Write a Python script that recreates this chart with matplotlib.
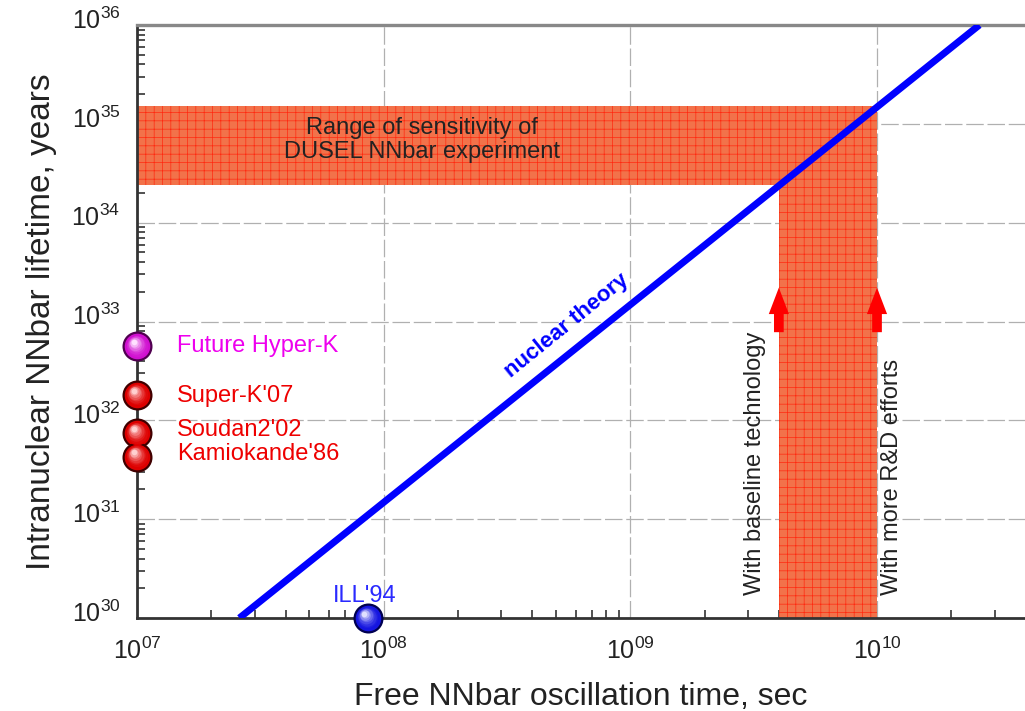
import matplotlib
matplotlib.use("Agg")
import matplotlib.pyplot as plt
import matplotlib.transforms as mtransforms
from matplotlib.colors import to_rgb
from matplotlib.ticker import LogLocator, FixedLocator, NullFormatter
import numpy as np

plt.rcParams['font.family'] = ['Liberation Sans', 'DejaVu Sans']
plt.rcParams['mathtext.fontset'] = 'custom'
plt.rcParams['mathtext.rm'] = 'Liberation Sans'
plt.rcParams['hatch.linewidth'] = 0.5

# nuclear theory line T = R * tau^2 (endpoints)
theory_tau = [2.6e7, 2.6e10]
theory_T = [1e30, 1e36]

# experimental limits
exp_names = ["Future Hyper-K", "Super-K'07", "Soudan2'02", "Kamiokande'86"]
exp_tau = [1e7, 1e7, 1e7, 1e7]
exp_T = [5.6e32, 1.8e32, 7.4e31, 4.3e31]
exp_colors = ['#ee00ee', '#ee0000', '#ee0000', '#ee0000']
exp_label_T = [5.6e32, 1.75e32, 8.0e31, 4.6e31]

ill_tau = 8.6e7
ill_T = 1e30

# DUSEL sensitivity band
dusel_tau = [4e9, 1e10]
dusel_T = [2.4e34, 1.5e35]

xmin, xmax = 1e7, 10 ** 10.6
ymin, ymax = 1e30, 1e36

fig = plt.figure(figsize=(10.25, 7.11), dpi=100)
ax = fig.add_axes([0.1337, 0.1308, 0.8663, 0.834])
ax.set_xscale('log')
ax.set_yscale('log')
ax.set_xlim(xmin, xmax)
ax.set_ylim(ymin, ymax)

band_kw = dict(facecolor='#f2724a', edgecolor='#ff2a10', hatch='++', linewidth=0, zorder=1)
ax.fill_between([xmin, dusel_tau[1]], dusel_T[0], dusel_T[1], **band_kw)
ax.fill_between(dusel_tau, ymin, dusel_T[0], **band_kw)

ax.plot(theory_tau, theory_T, color='#0000ff', lw=5, solid_capstyle='butt', zorder=3)
ax.text(5.5e8, 9.1e32, 'nuclear theory', color='#0000ff', fontsize=16,
        fontweight='bold', rotation=39, ha='center', va='center', zorder=4)

ax.text(1.43e8, 6.9e34, 'Range of sensitivity of\nDUSEL NNbar experiment',
        ha='center', va='center', fontsize=17, color='#222222', linespacing=1.1, zorder=4)

# red arrows
for xa in dusel_tau:
    ax.annotate('', xy=(xa, 2.2e33), xytext=(xa, 7.8e32),
                arrowprops=dict(arrowstyle='simple,head_width=1.45,head_length=1.9,tail_width=0.7',
                                color='#ff0000', lw=0, shrinkA=0, shrinkB=0), zorder=5)

ax.text(3.2e9, 1.7e30, 'With baseline technology', rotation=90, ha='center', va='bottom',
        fontsize=17, color='#222222', zorder=4)
ax.text(1.15e10, 1.7e30, 'With more R&D efforts', rotation=90, ha='center', va='bottom',
        fontsize=17, color='#222222', zorder=4)


def sphere(x, y, color, dark, light):
    # shaded ball: stacked discs getting lighter towards the upper-left
    c1, c2 = np.array(to_rgb(color)), np.array(to_rgb(light))
    ax.plot(x, y, 'o', ms=20, mfc=color, mec=dark, mew=1.6, clip_on=False, zorder=10)
    n = 8
    for i in range(n):
        f = i / (n - 1)
        col = c1 + (c2 - c1) * f ** 1.6
        ms = 17 - 13 * f
        off = mtransforms.offset_copy(ax.transData, fig=fig, x=-3.5 * f, y=4.5 * f, units='dots')
        ax.plot(x, y, 'o', ms=ms, mfc=col, mec='none', transform=off,
                clip_on=False, zorder=11 + i)


for tau, T, c in zip(exp_tau, exp_T, exp_colors):
    if c == '#ee00ee':
        sphere(tau, T, '#d010d0', '#500050', '#ffe0ff')
    else:
        sphere(tau, T, '#dd0000', '#400000', '#ffd0d0')
for name, T, c in zip(exp_names, exp_label_T, exp_colors):
    ax.text(1.45e7, T, name, color=c, fontsize=17, va='center', ha='left', zorder=4)

sphere(ill_tau, ill_T, '#1515e0', '#000050', '#e0e0ff')
ax.text(ill_tau * 0.97, 1.28e30, "ILL'94", color='#2a2aff', fontsize=17, ha='center', va='bottom')

# axes styling
ax.spines['right'].set_visible(False)
ax.spines['top'].set_color('#888888')
ax.spines['top'].set_linewidth(2.4)
for s in ['left', 'bottom']:
    ax.spines[s].set_color('#333333')
    ax.spines[s].set_linewidth(2)

ax.xaxis.set_major_locator(FixedLocator([1e7, 1e8, 1e9, 1e10]))
ax.xaxis.set_minor_locator(LogLocator(base=10, subs=np.arange(2, 10), numticks=20))
ax.yaxis.set_major_locator(FixedLocator([10.0 ** k for k in range(30, 37)]))
ax.yaxis.set_minor_locator(LogLocator(base=10, subs=np.arange(2, 10), numticks=20))
ax.xaxis.set_minor_formatter(NullFormatter())
ax.yaxis.set_minor_formatter(NullFormatter())
ax.set_xticklabels([r'$\mathregular{10^{07}}$', r'$\mathregular{10^{08}}$',
                    r'$\mathregular{10^{09}}$', r'$\mathregular{10^{10}}$'])
ax.set_yticklabels([r'$\mathregular{10^{%d}}$' % k for k in range(30, 37)])
ax.tick_params(which='both', direction='in', top=False, right=False, colors='#333333',
               labelcolor='#222222', labelsize=18)
ax.tick_params(which='minor', length=6, width=1.2)
ax.xaxis.set_tick_params(which='major', length=0, pad=14)
ax.yaxis.set_tick_params(which='major', length=0, pad=12)

# y tick labels sit a little above their tick
raise_lbl = mtransforms.ScaledTranslation(0, 5 / 72, fig.dpi_scale_trans)
for lbl in ax.get_yticklabels():
    lbl.set_transform(lbl.get_transform() + raise_lbl)

ax.grid(True, which='major', color='#b0b0b0', lw=0.9, linestyle=(0, (14, 3)), zorder=0)
ax.set_axisbelow(True)

ax.set_xlabel('Free NNbar oscillation time, sec', fontsize=23, color='#222222', labelpad=13)
ax.set_ylabel('Intranuclear NNbar lifetime, years', fontsize=24, color='#222222', labelpad=10)

fig.savefig('out.png', dpi=100)
